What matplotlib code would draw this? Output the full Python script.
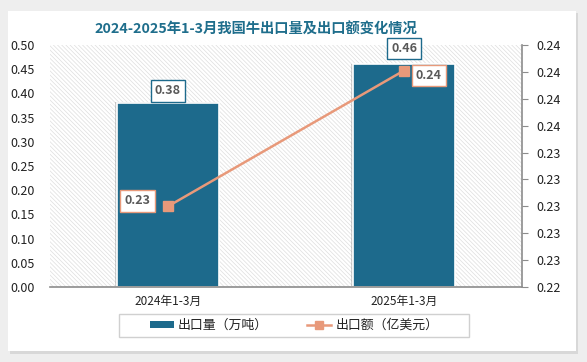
import matplotlib
matplotlib.use("Agg")
import matplotlib.pyplot as plt
import matplotlib.patheffects as pe
from matplotlib.patches import Rectangle
from matplotlib.lines import Line2D
from matplotlib.ticker import FixedLocator, FormatStrFormatter
import numpy as np

plt.rcParams['font.family'] = ['Noto Sans CJK SC', 'DejaVu Sans']
plt.rcParams['hatch.linewidth'] = 0.5

categories = ['2024年1-3月', '2025年1-3月']
volume = [0.38, 0.46]          # 出口量（万吨）
value = [0.2300, 0.2401]       # 出口额（亿美元）
volume_labels = ['0.38', '0.46']
value_labels = ['0.23', '0.24']
left_ticks = [0.00, 0.05, 0.10, 0.15, 0.20, 0.25, 0.30, 0.35, 0.40, 0.45, 0.50]
right_ticks = [0.224, 0.226, 0.228, 0.230, 0.232, 0.234, 0.236, 0.238, 0.240, 0.242]

title = '2024-2025年1-3月我国牛出口量及出口额变化情况'
bar_color = '#1d6a8c'
line_color = '#e8997a'
text_gray = '#595959'

W, H = 587, 362
fig = plt.figure(figsize=(W / 100, H / 100), dpi=100, facecolor='#eeeeee')

# white card with soft shadow
shadow = Rectangle((10 / W, 1 - 354 / H), 568 / W, 341 / H, transform=fig.transFigure,
                   facecolor='#d8d8d8', edgecolor='none', zorder=-2)
card = Rectangle((8 / W, 1 - 351 / H), 568 / W, 340 / H, transform=fig.transFigure,
                 facecolor='white', edgecolor='none', zorder=-1)
fig.patches.extend([shadow, card])

ax = fig.add_axes([50 / W, 1 - 287 / H, 472 / W, 242 / H])
ax.set_facecolor('none')
ax.add_patch(Rectangle((0, 0), 1, 1, transform=ax.transAxes, facecolor='white',
                       edgecolor='#dedede', hatch='\\\\\\\\\\\\\\\\', linewidth=0, zorder=0))

x = np.arange(len(categories))
bars = ax.bar(x, volume, width=0.435, color=bar_color, edgecolor='white', linewidth=1.2, zorder=2)
for b in bars:
    b.set_path_effects([pe.SimplePatchShadow(offset=(-1.5, 0.5), shadow_rgbFace='#666666', alpha=0.3),
                        pe.Normal()])
ax.set_xlim(-0.5, 1.5)
ax.set_ylim(0, 0.5)
ax.yaxis.set_major_locator(FixedLocator(left_ticks))
ax.yaxis.set_major_formatter(FormatStrFormatter('%.2f'))
ax.tick_params(axis='y', length=0, labelsize=9, colors='#222222', pad=11)
ax.tick_params(axis='x', length=0, labelsize=8.5, colors='#222222', pad=6)
ax.set_xticks(x)
ax.set_xticklabels(categories)
for s in ['left', 'right', 'top']:
    ax.spines[s].set_visible(False)
ax.spines['bottom'].set_color('#8c8c8c')
ax.spines['bottom'].set_linewidth(1.2)

for xi, v, lab, dy in zip(x, volume, volume_labels, [0.025, 0.033]):
    ax.text(xi, v + dy, lab, ha='center', va='center', fontsize=9, fontweight='bold',
            color=text_gray, zorder=5,
            bbox=dict(boxstyle='square,pad=0.35', facecolor='white', edgecolor=bar_color, linewidth=1))

ax2 = ax.twinx()
ax2.set_ylim(0.224, 0.242)
ax2.yaxis.set_major_locator(FixedLocator(right_ticks))
ax2.yaxis.set_major_formatter(FormatStrFormatter('%.2f'))
ax2.tick_params(axis='y', length=4, labelsize=9, pad=6, colors='#8c8c8c', labelcolor='#222222')
for s in ['left', 'top', 'bottom']:
    ax2.spines[s].set_visible(False)
ax2.spines['right'].set_color('#8c8c8c')
ax2.spines['right'].set_linewidth(1.2)
ax2.plot(x, value, color=line_color, linewidth=1.8, marker='s', markersize=7,
         markerfacecolor=line_color, markeredgecolor=line_color, zorder=4)
ax2.annotate(value_labels[0], (x[0], value[0]), xytext=(-22, 4), textcoords='offset points',
             ha='center', va='center', fontsize=9, fontweight='bold', color=text_gray,
             bbox=dict(boxstyle='square,pad=0.35', facecolor='white', edgecolor=line_color, linewidth=1))
ax2.annotate(value_labels[1], (x[1], value[1]), xytext=(18, -3.6), textcoords='offset points',
             ha='center', va='center', fontsize=9, fontweight='bold', color=text_gray,
             bbox=dict(boxstyle='square,pad=0.35', facecolor='white', edgecolor=line_color, linewidth=1))

fig.text(256 / W, 1 - 30 / H, title, ha='center', va='center',
         fontsize=10.3, fontweight='bold', color='#1f6e8c')

# legend frame
fig.patches.append(Rectangle((119 / W, 1 - 337 / H), 350 / W, 23 / H, transform=fig.transFigure,
                             facecolor='white', edgecolor='#d0d0d0', linewidth=1, zorder=1))
handles = [Rectangle((0, 0), 1, 1, facecolor=bar_color, edgecolor='none'),
           Line2D([0], [0], color=line_color, linewidth=1.8, marker='s', markersize=6,
                  markerfacecolor=line_color, markeredgecolor=line_color)]
leg = fig.legend(handles, ['出口量（万吨）', '出口额（亿美元）'], loc='center',
                 bbox_to_anchor=(294 / W, 1 - 325.5 / H), ncol=2, frameon=False,
                 fontsize=9.3, handlelength=1.9, handleheight=0.45, handletextpad=0.3,
                 columnspacing=3.0, borderpad=0.2, borderaxespad=0)
leg.set_zorder(2)
for t in leg.get_texts():
    t.set_color('#222222')

fig.savefig('out.png', dpi=100, facecolor=fig.get_facecolor())
